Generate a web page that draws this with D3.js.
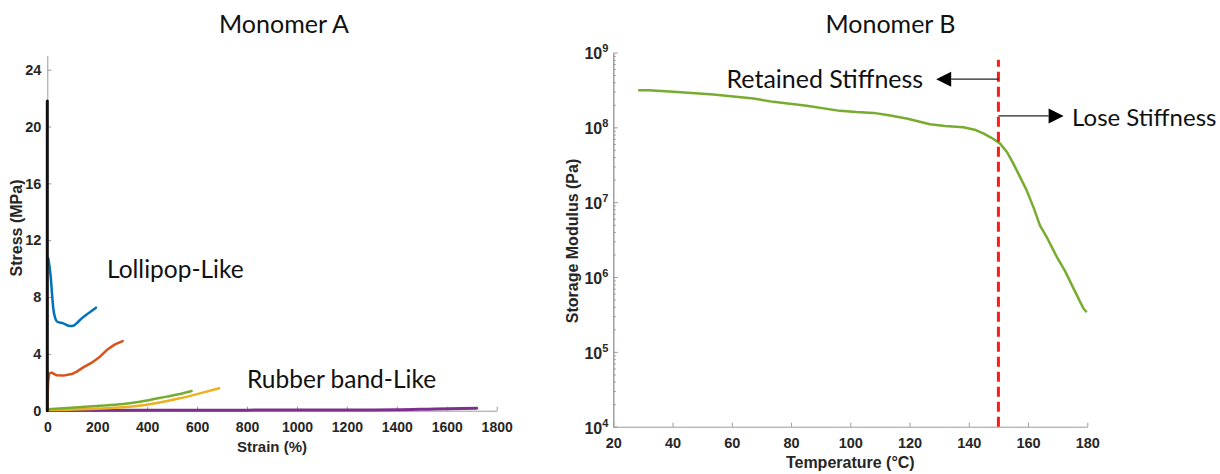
<!DOCTYPE html>
<html>
<head>
<meta charset="utf-8">
<script src="https://cdn.jsdelivr.net/npm/d3@7"></script>
<style>
  body { margin: 0; background: #fff; }
  .note { font-family: Lato, "Open Sans", sans-serif; fill: #111; }
</style>
</head>
<body>
<script>
// ---- Monomer A : stress / strain ----
const strainTicks = [0, 200, 400, 600, 800, 1000, 1200, 1400, 1600, 1800];
const stressTicks = [0, 4, 8, 12, 16, 20, 24];

const blackStrain = [0, 0];
const blackStress = [0, 21.8];

const blueStrain = [4, 13.6, 18.8, 24, 32, 40, 64, 91, 104, 120, 138, 164, 195];
const blueStress = [10.72, 9.43, 8.26, 7.2, 6.5, 6.26, 6.15, 5.96, 5.98, 6.19, 6.5, 6.85, 7.25];

const orangeStrain = [0, 3, 8, 17.6, 37.6, 64, 97.6, 118, 144, 178, 211, 238, 271, 302];
const orangeStress = [0, 2.0, 2.63, 2.68, 2.49, 2.47, 2.58, 2.75, 3.05, 3.38, 3.8, 4.27, 4.67, 4.9];

const greenStrain = [4, 198, 304, 371, 478, 531, 578];
const greenStress = [0.1, 0.33, 0.47, 0.63, 0.99, 1.18, 1.39];

const yellowStrain = [4, 238, 398, 531, 611, 688];
const yellowStress = [0.05, 0.17, 0.42, 0.87, 1.22, 1.58];

const purpleStrain = [0, 400, 800, 1200, 1400, 1550, 1720];
const purpleStress = [0.02, 0.03, 0.04, 0.05, 0.06, 0.12, 0.17];

// ---- Monomer B : storage modulus vs temperature ----
const tempTicks = [20, 40, 60, 80, 100, 120, 140, 160, 180];
const modulusDecades = [1e4, 1e5, 1e6, 1e7, 1e8, 1e9];

const temperature = [28.4, 32, 40.3, 53.8, 67.3, 74, 85.3, 96.5, 102, 107.8, 113, 119, 126.9, 132, 138.1,
  142, 144.9, 147.5, 150.5, 153, 155, 159.5, 162, 164, 166.5, 169.7, 172.5, 175.3, 178.7, 179.8];
const modulus = [3.14e8, 3.13e8, 2.98e8, 2.75e8, 2.43e8, 2.19e8, 1.94e8, 1.66e8, 1.6e8, 1.56e8, 1.45e8, 1.31e8, 1.1e8, 1.04e8, 1.0e8,
  9.3e7, 8.3e7, 7.3e7, 6.1e7, 4.6e7, 3.3e7, 1.45e7, 8.2e6, 4.9e6, 3.3e6, 1.86e6, 1.2e6, 7.1e5, 3.8e5, 3.4e5];

const transitionTemp = 150;

const svg = d3.select('body').append('svg')
  .attr('width', 1220)
  .attr('height', 474)
  .style('display', 'block');

const boldFont = '"Liberation Sans", Arial, Helvetica, sans-serif';

function styleAxis(g, size) {
  g.selectAll('path, line').attr('stroke', '#9a9a9a');
  g.selectAll('text')
    .style('font-family', boldFont)
    .style('font-weight', 'bold')
    .style('font-size', size + 'px')
    .attr('fill', '#262626');
}

function axisLabel(text, size) {
  return svg.append('text')
    .style('font-family', boldFont)
    .style('font-weight', 'bold')
    .style('font-size', size + 'px')
    .attr('fill', '#262626')
    .attr('text-anchor', 'middle')
    .text(text);
}

// ===== left panel =====
const x1 = d3.scaleLinear().domain([0, 1800]).range([47.3, 496.7]);
const y1 = d3.scaleLinear().domain([0, 25]).range([410.7, 55.5]);

svg.append('g')
  .attr('transform', 'translate(0,' + y1(0) + ')')
  .call(d3.axisBottom(x1).tickValues(strainTicks).tickFormat(d3.format('d'))
    .tickSize(-4).tickSizeOuter(0).tickPadding(11.5))
  .call(g => styleAxis(g, 14));

svg.append('g')
  .attr('transform', 'translate(' + x1(0) + ',0)')
  .call(d3.axisLeft(y1).tickValues(stressTicks).tickSize(-4).tickSizeOuter(0).tickPadding(6))
  .call(g => styleAxis(g, 14.5));

axisLabel('Stress (MPa)', 16)
  .attr('transform', 'translate(21.5,228) rotate(-90)');

axisLabel('Strain (%)', 15)
  .attr('x', (x1(0) + x1(1800)) / 2)
  .attr('y', 451.5);

const line1 = d3.line().x(d => x1(d[0])).y(d => y1(d[1]));
const smooth1 = d3.line().curve(d3.curveMonotoneX).x(d => x1(d[0])).y(d => y1(d[1]));

const leftSeries = [
  { xs: purpleStrain, ys: purpleStress, color: '#7E2F8E', w: 3, gen: smooth1 },
  { xs: yellowStrain, ys: yellowStress, color: '#EDB120', w: 2.5, gen: smooth1 },
  { xs: greenStrain, ys: greenStress, color: '#77AC30', w: 2.5, gen: smooth1 },
  { xs: orangeStrain, ys: orangeStress, color: '#D95319', w: 2.5, gen: line1 },
  { xs: blueStrain, ys: blueStress, color: '#0072BD', w: 2.5, gen: smooth1 },
  { xs: blackStrain, ys: blackStress, color: '#111', w: 3, gen: line1 }
];

svg.append('g').selectAll('path')
  .data(leftSeries)
  .join('path')
  .attr('fill', 'none')
  .attr('stroke', d => d.color)
  .attr('stroke-width', d => d.w)
  .attr('stroke-linejoin', 'round')
  .attr('stroke-linecap', 'round')
  .attr('d', d => d.gen(d.xs.map((v, i) => [v, d.ys[i]])));

svg.append('text').attr('class', 'note')
  .attr('x', 284).attr('y', 33)
  .attr('text-anchor', 'middle')
  .style('font-size', '25px')
  .text('Monomer A');

svg.append('text').attr('class', 'note')
  .attr('x', 107).attr('y', 278)
  .style('font-size', '24.5px')
  .text('Lollipop-Like');

svg.append('text').attr('class', 'note')
  .attr('x', 247).attr('y', 388)
  .style('font-size', '24.5px')
  .text('Rubber band-Like');

// ===== right panel =====
const x2 = d3.scaleLinear().domain([20, 180]).range([613.3, 1087.3]);
const y2 = d3.scaleLog().domain([1e4, 1e9]).range([426.7, 52.5]);

svg.append('g')
  .attr('transform', 'translate(0,' + y2(1e4) + ')')
  .call(d3.axisBottom(x2).tickValues(tempTicks).tickSize(-4).tickSizeOuter(0).tickPadding(11.5))
  .call(g => styleAxis(g, 14.5));

// minor log ticks
const minorTicks = [];
modulusDecades.slice(0, -1).forEach(d => { for (let k = 2; k < 10; k++) minorTicks.push(d * k); });

svg.append('g')
  .attr('transform', 'translate(' + x2(20) + ',0)')
  .call(d3.axisLeft(y2).tickValues(minorTicks).tickSize(-2.5).tickSizeOuter(0).tickFormat(() => ''))
  .call(g => styleAxis(g, 14));

const yAxis2 = svg.append('g')
  .attr('transform', 'translate(' + x2(20) + ',0)')
  .call(d3.axisLeft(y2).tickValues(modulusDecades).tickSize(-4.5).tickSizeOuter(0).tickFormat(() => ''))
  .call(g => styleAxis(g, 15));

yAxis2.selectAll('.tick').each(function (d) {
  const t = d3.select(this).append('text')
    .attr('x', -5)
    .attr('dy', '0.4em')
    .attr('text-anchor', 'end')
    .attr('fill', '#262626')
    .style('font-family', boldFont)
    .style('font-weight', 'bold')
    .style('font-size', '16px');
  t.append('tspan').text('10');
  t.append('tspan').attr('dy', -7).style('font-size', '11px').text(Math.round(Math.log10(d)));
});

axisLabel('Storage Modulus (Pa)', 16)
  .attr('transform', 'translate(578,241) rotate(-90)');

axisLabel('Temperature (\u00B0C)', 16)
  .attr('x', (x2(20) + x2(180)) / 2)
  .attr('y', 467.5);

svg.append('path')
  .datum(temperature.map((t, i) => [t, modulus[i]]))
  .attr('fill', 'none')
  .attr('stroke', '#77AC30')
  .attr('stroke-width', 2.5)
  .attr('stroke-linejoin', 'round')
  .attr('d', d3.line().x(d => x2(d[0])).y(d => y2(d[1])));

svg.append('line')
  .attr('x1', x2(transitionTemp)).attr('x2', x2(transitionTemp))
  .attr('y1', y2(1e4)).attr('y2', y2(8e8))
  .attr('stroke', '#ff1a1a')
  .attr('stroke-width', 3)
  .attr('stroke-dasharray', '10,5');

// arrows
function arrow(yVal, tipT) {
  const x0 = x2(transitionTemp), tip = x2(tipT), yy = y2(yVal);
  const dir = tip < x0 ? 1 : -1;
  const base = tip + dir * 15;
  svg.append('line')
    .attr('x1', x0).attr('x2', base).attr('y1', yy).attr('y2', yy)
    .attr('stroke', '#222').attr('stroke-width', 1.2);
  svg.append('path')
    .attr('d', 'M' + tip + ',' + yy + 'L' + base + ',' + (yy - 7.5) + 'L' + base + ',' + (yy + 7.5) + 'Z')
    .attr('fill', '#000');
  return { tip, yy };
}

const a1 = arrow(4.4e8, 129);
const a2 = arrow(1.42e8, 172);

svg.append('text').attr('class', 'note')
  .attr('x', a1.tip - 13).attr('y', a1.yy + 8.5)
  .attr('text-anchor', 'end')
  .style('font-size', '25px')
  .text('Retained Stiffness');

svg.append('text').attr('class', 'note')
  .attr('x', a2.tip + 8.5).attr('y', a2.yy + 10)
  .style('font-size', '24px')
  .text('Lose Stiffness');

svg.append('text').attr('class', 'note')
  .attr('x', 890.5).attr('y', 33)
  .attr('text-anchor', 'middle')
  .style('font-size', '25px')
  .text('Monomer B');
</script>
</body>
</html>
